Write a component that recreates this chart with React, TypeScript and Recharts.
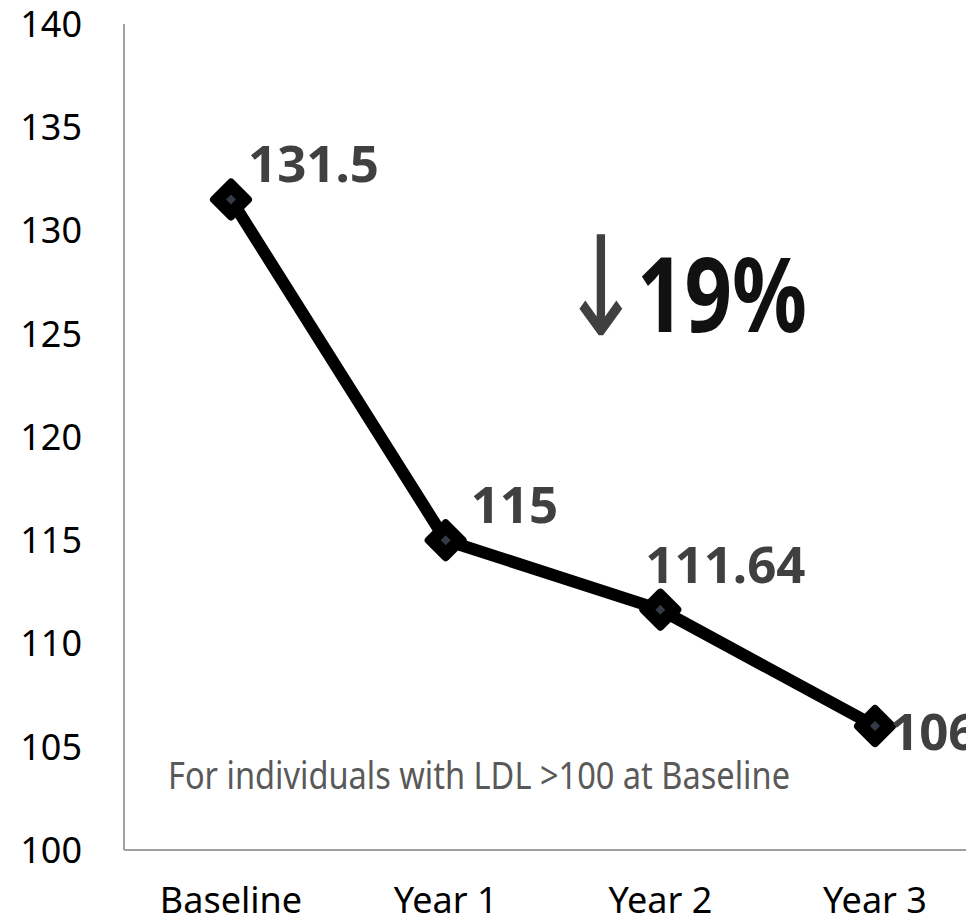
import React from 'react';
import { LineChart, Line, XAxis, YAxis } from 'recharts';

const categories = ['Baseline', 'Year 1', 'Year 2', 'Year 3'];
const ldlValues = [131.5, 115, 111.64, 106];
const yTicks = [100, 105, 110, 115, 120, 125, 130, 135, 140];

// label placement relative to each point (Excel put them by hand)
const labelOffsets = [
  { dx: 17, dy: -18 },
  { dx: 25, dy: -17 },
  { dx: -15, dy: -27 },
  { dx: 15, dy: 24 },
];

const data = categories.map((name, i) => ({ name, ldl: ldlValues[i] }));

const FONT = '"Noto Sans", sans-serif';

const DiamondDot = (props: any) => {
  const { cx, cy, index } = props;
  if (cx == null || cy == null) return null;
  const r = 17;
  const s = 5;
  return (
    <g key={`dot-${index}`}>
      <polygon
        points={`${cx},${cy - r} ${cx + r},${cy} ${cx},${cy + r} ${cx - r},${cy}`}
        fill="#000"
        stroke="#000"
        strokeWidth={8}
        strokeLinejoin="round"
      />
      <polygon
        points={`${cx},${cy - s} ${cx + s},${cy} ${cx},${cy + s} ${cx - s},${cy}`}
        fill="#343a46"
      />
    </g>
  );
};

const PointLabel = (props: any) => {
  const { x, y, value, index } = props;
  const off = labelOffsets[index] || { dx: 0, dy: 0 };
  return (
    <text
      x={x + off.dx}
      y={y + off.dy}
      fill="#404040"
      fontFamily={FONT}
      fontWeight="bold"
      fontSize={51}
      textAnchor="start"
    >
      {value}
    </text>
  );
};

export default function App() {
  return (
    <div style={{ position: 'absolute', left: 0, top: 0, background: '#fff' }}>
      <LineChart
        width={966}
        height={922}
        data={data}
        margin={{ top: 24, right: 0, bottom: 0, left: 0 }}
      >
        <XAxis
          dataKey="name"
          height={72}
          padding={{ left: 107, right: 91 }}
          axisLine={{ stroke: '#a0a0a0', strokeWidth: 2 }}
          tickLine={false}
          tickMargin={31}
          tick={{ fill: '#000', fontSize: 36, fontFamily: FONT }}
          interval={0}
        />
        <YAxis
          domain={[100, 140]}
          ticks={yTicks}
          width={124}
          axisLine={{ stroke: '#a0a0a0', strokeWidth: 2 }}
          tickLine={false}
          tickMargin={36}
          tick={{ fill: '#000', fontSize: 36, fontFamily: FONT }}
          interval={0}
        />
        <Line
          type="linear"
          dataKey="ldl"
          stroke="#000"
          strokeWidth={12}
          strokeLinejoin="round"
          dot={<DiamondDot />}
          activeDot={false}
          label={<PointLabel />}
          isAnimationActive={false}
        />
        <text
          transform="translate(601,335) scale(1,1.38)"
          x={0}
          y={0}
          fill="#404040"
          fontFamily='"DejaVu Sans", sans-serif'
          fontSize={100}
          textAnchor="middle"
        >
          ↓
        </text>
        <text
          x={637}
          y={332}
          fill="#111"
          fontFamily={FONT}
          fontWeight="bold"
          fontSize={104}
          textLength={170}
          lengthAdjust="spacingAndGlyphs"
        >
          19%
        </text>
        <text
          x={168}
          y={789}
          fill="#595959"
          fontFamily={FONT}
          fontSize={38}
          textLength={622}
          lengthAdjust="spacingAndGlyphs"
        >
          For individuals with LDL &gt;100 at Baseline
        </text>
      </LineChart>
    </div>
  );
}
